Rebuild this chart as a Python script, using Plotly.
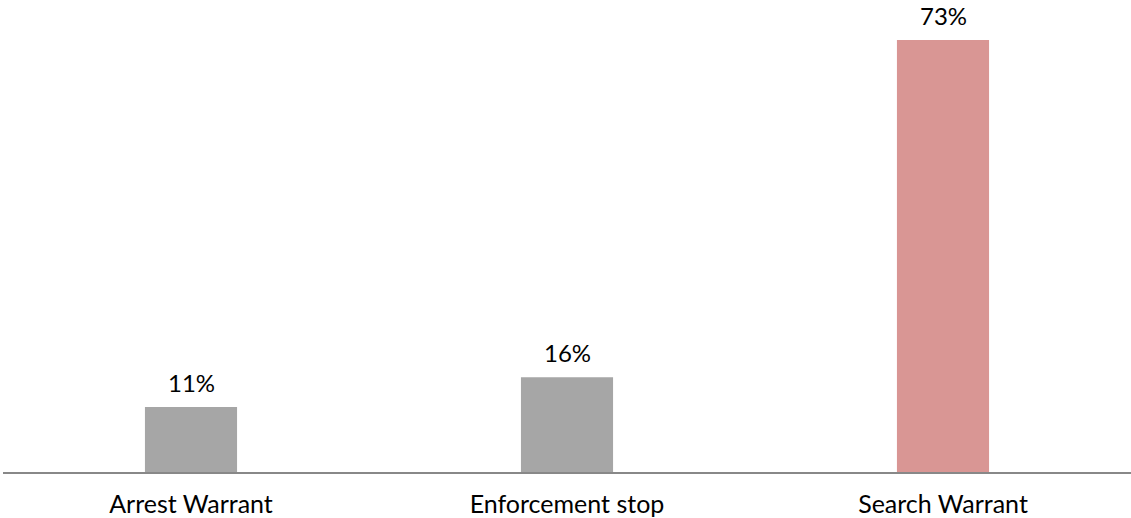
import plotly.graph_objects as go

# Share of incidents by activity type
categories = ["Arrest Warrant", "Enforcement stop", "Search Warrant"]
shares = [11, 16, 73]
bar_colors = ["#A6A6A6", "#A6A6A6", "#D99694"]

fig = go.Figure(
    go.Bar(
        x=categories,
        y=shares,
        marker=dict(color=bar_colors, line=dict(width=0)),
        hoverinfo="skip",
    )
)

# Value labels above each bar
for cat, val in zip(categories, shares):
    fig.add_annotation(
        x=cat, y=val, text=f"{val}%", showarrow=False,
        yanchor="bottom", yshift=9, borderpad=0,
        font=dict(family="Lato", size=24, color="#000000"),
    )

fig.update_layout(
    width=1131, height=518,
    margin=dict(l=3, r=0, t=0, b=46),
    paper_bgcolor="white", plot_bgcolor="white",
    bargap=0.755,
    showlegend=False,
    font=dict(family="Lato", size=24, color="#000000"),
)
fig.update_xaxes(
    showline=True, linecolor="#888888", linewidth=1.5,
    showgrid=False, ticks="", tickfont=dict(size=25),
    ticklabelstandoff=9, automargin=False,
)
fig.update_yaxes(
    range=[0, 79.76], visible=False, showgrid=False, zeroline=False,
)

fig.write_html("out.html")
